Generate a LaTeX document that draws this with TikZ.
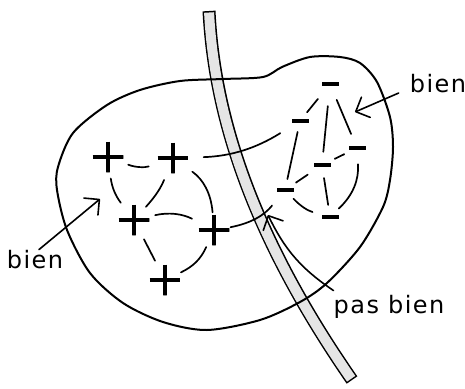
\documentclass[tikz,border=0pt]{standalone}
\usepackage{fontspec}
\setmainfont{DejaVu Sans}
\usetikzlibrary{arrows.meta}

\begin{document}
\begin{tikzpicture}[
    x=1pt, y=1pt,
    plusnode/.style={circle, minimum size=31pt, inner sep=0pt,
        path picture={\draw[line width=4.2pt]
            (path picture bounding box.north) -- (path picture bounding box.south)
            (path picture bounding box.west) -- (path picture bounding box.east);}},
    minusnode/.style={circle, minimum size=20pt, inner sep=0pt,
        path picture={\fill ([xshift=-8.5pt,yshift=-2.25pt]path picture bounding box.center) rectangle ++(17,4.5);}},
    link/.style={line width=1.7pt, line cap=round, shorten <=6pt, shorten >=6pt},
    handtext/.style={font=\fontsize{24}{24}\selectfont\addfontfeature{LetterSpace=6}, inner sep=0pt, anchor=base},
    pointer/.style={line width=1.6pt, line cap=round, -{Straight Barb[length=11pt,width=22pt,round]}}
]
    \useasboundingbox (0,0) rectangle (465,-388);

    % Strip
    \draw[line width=13pt] (209,-11) .. controls (215,-130) and (262,-250) .. (352,-380);
    \draw[gray!20, line width=10pt, shorten <=1.5pt, shorten >=1.5pt] (209,-11) .. controls (215,-130) and (262,-250) .. (352,-380);

    % Region
    \draw[line width=2pt] plot[smooth cycle] coordinates {
        (180,-81) (223,-79) (263,-77) (282,-67) (310,-57) (340,-57) (360,-63)
        (377,-82) (390,-117) (393,-147) (390,-180) (383,-207) (360,-247)
        (327,-283) (300,-302) (260,-320) (207,-330) (163,-322) (123,-303)
        (90,-273) (67,-230) (57,-190) (58,-167) (73,-133) (107,-105) (140,-90)};

    % Plus nodes
    \node[plusnode] (p1) at (108,-157) {};
    \node[plusnode] (p2) at (173,-158) {};
    \node[plusnode] (p3) at (134,-220) {};
    \node[plusnode] (p4) at (214,-230) {};
    \node[plusnode] (p5) at (165,-280) {};

    % Minus nodes
    \node[minusnode] (m1) at (330,-84) {};
    \node[minusnode] (m2) at (300,-121) {};
    \node[minusnode] (m3) at (357,-148) {};
    \node[minusnode] (m4) at (322,-165) {};
    \node[minusnode] (m5) at (285,-190) {};
    \node[minusnode] (m6) at (330,-217) {};

    % Links among plus nodes
    \draw[link, shorten >=10pt] (p1) to[bend right=20] (p2);
    \draw[link] (p1) to[bend right=15] (p3);
    \draw[link, shorten <=8pt, shorten >=2pt] (p2) to[bend left=10] (p3);
    \draw[link, shorten <=8pt, shorten >=2pt] (p2) to[bend left=25] (p4);
    \draw[link, shorten >=9pt] (p3) to[bend left=20] (p4);
    \draw[link] (p3) -- (p5);
    \draw[link, shorten <=3pt, shorten >=2pt] (p4) to[bend left=20] (p5);

    % Links among minus nodes
    \draw[link, shorten <=9pt, shorten >=1pt] (m1) -- (m2);
    \draw[link, shorten <=12pt, shorten >=3pt] (m1) -- (m4);
    \draw[link, shorten <=7pt, shorten >=5pt] (m1) -- (m3);
    \draw[link, shorten <=1pt, shorten >=1pt] (m2) -- (m5);
    \draw[link, shorten <=4pt, shorten >=4pt] (m3) -- (m4);
    \draw[link, shorten <=7pt, shorten >=3pt] (m4) -- (m5);
    \draw[link, shorten <=2pt, shorten >=8pt] (m5) to[bend right=15] (m6);
    \draw[link, shorten <=3pt, shorten >=2pt] (m4) -- (m6);
    \draw[link, shorten <=6pt, shorten >=2pt] (m3) to[bend left=25] (m6);

    % Links across the strip
    \draw[link, shorten <=15pt, shorten >=13pt] (p2) to[bend right=15] (m2);
    \draw[link, shorten <=1pt, shorten >=10pt] (p4) to[bend right=20] (m5);

    % Labels
    \node[handtext] (rbien) at (438,-92) {bien};
    \node[handtext] (lbien) at (35,-268) {bien};
    \node[handtext] (pbien) at (389,-313) {pas bien};

    \coordinate (ltip) at (100,-199);
    \coordinate (rtip) at (355,-112);
    \coordinate (ptip) at (268,-215);

    % Arrows
    \draw[pointer] ([xshift=4pt]lbien.north) -- (ltip);
    \draw[pointer] ([xshift=-11pt,yshift=-1pt]rbien.base west) -- (rtip);
    \draw[pointer] ([yshift=4pt]pbien.north west) to[bend left=15] (ptip);
\end{tikzpicture}
\end{document}
